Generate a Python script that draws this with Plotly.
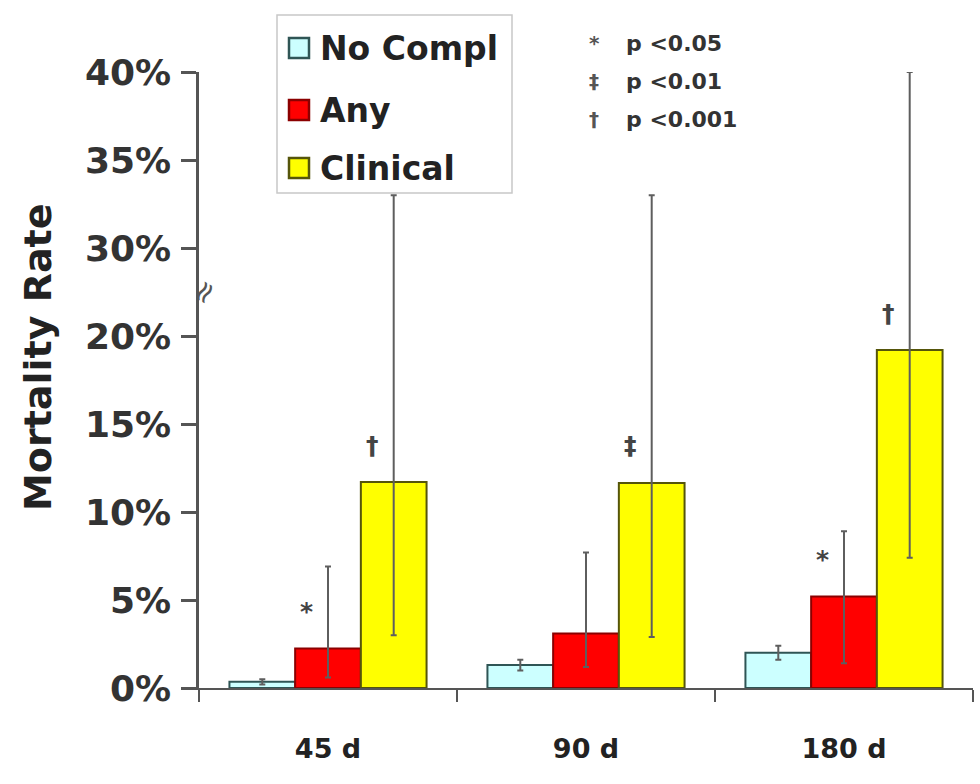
import plotly.graph_objects as go

# Follow-up windows
categories = ["45 d", "90 d", "180 d"]

# Mortality rate (%) by complication group, with confidence limits
no_compl = [0.35, 1.3, 2.0]
no_compl_lo = [0.2, 1.0, 1.6]
no_compl_hi = [0.5, 1.6, 2.4]

any_compl = [2.25, 3.1, 5.2]
any_lo = [0.6, 1.2, 1.4]
any_hi = [6.9, 7.7, 8.9]

clinical = [11.7, 11.65, 19.2]
clinical_lo = [3.0, 2.9, 7.4]
clinical_hi = [33.0, 33.0, 40.0]

# y-axis with a break between 20% and 30%
tick_pcts = [0, 5, 10, 15, 20, 30, 35, 40]
tick_labels = ["0%", "5%", "10%", "15%", "20%", "30%", "35%", "40%"]
BREAK_LOW, BREAK_GAP = 20, 5

# significance key
sig_symbols = ["*", "‡", "†"]
sig_labels = ["p <0.05", "p <0.01", "p <0.001"]

# significance markers above bars: (category, series, symbol)
sig_marks = [
    ("45 d", "Any", "*"),
    ("45 d", "Clinical", "†"),
    ("90 d", "Clinical", "‡"),
    ("180 d", "Any", "*"),
    ("180 d", "Clinical", "†"),
]


def to_axis(v):
    """Map a percentage onto the broken axis."""
    return v if v <= BREAK_LOW else v - BREAK_GAP


FONT = "DejaVu Sans"
ERR_COLOR = "#5e5e5e"
AXIS_COLOR = "#555555"

series = [
    ("No Compl", no_compl, no_compl_lo, no_compl_hi, "#CCFFFF", "#2F5555"),
    ("Any", any_compl, any_lo, any_hi, "#FF0000", "#8B0000"),
    ("Clinical", clinical, clinical_lo, clinical_hi, "#FFFF00", "#55550A"),
]

W, H = 980, 784
plot_left, plot_right = 199, 973
plot_top, plot_bottom = 72, 688
plot_w = plot_right - plot_left
plot_h = plot_bottom - plot_top


def px_x(px):
    return (px - plot_left) / plot_w


def px_y(py):
    return (plot_bottom - py) / plot_h


fig = go.Figure()
for name, vals, lo, hi, fill, edge in series:
    yv = [to_axis(v) for v in vals]
    plus = [to_axis(h) - y for h, y in zip(hi, yv)]
    minus = [v - l for v, l in zip(vals, lo)]
    fig.add_trace(go.Bar(
        name=name,
        x=categories,
        y=yv,
        marker=dict(color=fill, line=dict(color=edge, width=2)),
        error_y=dict(type="data", symmetric=False, array=plus, arrayminus=minus,
                     color=ERR_COLOR, thickness=2, width=3),
        cliponaxis=False,
        showlegend=False,
    ))

bargap = 0.236
cat_px = plot_w / len(categories)
bar_px = cat_px * (1 - bargap) / len(series)
series_index = {s[0]: k for k, s in enumerate(series)}
series_vals = {s[0]: s[1] for s in series}

annotations = []
shapes = []

# significance markers
for cat, sname, sym in sig_marks:
    k = series_index[sname]
    v = series_vals[sname][categories.index(cat)]
    annotations.append(dict(
        x=cat, y=to_axis(v), xref="x", yref="y",
        text=sym, showarrow=False,
        xshift=(k - 1) * bar_px - bar_px * 0.32,
        yshift=37, yanchor="middle",
        font=dict(family=FONT, size=25, color="#444444", weight="bold"),
    ))

# legend box with swatches
shapes.append(dict(type="rect", xref="paper", yref="paper",
                   x0=px_x(277), x1=px_x(512), y0=px_y(193), y1=px_y(15),
                   line=dict(color="#c8c8c8", width=1.5), fillcolor="white", layer="above"))
legend_rows = [48, 110, 168]
for (name, _, _, _, fill, edge), ry in zip(series, legend_rows):
    shapes.append(dict(type="rect", xref="paper", yref="paper",
                       x0=px_x(289), x1=px_x(309), y0=px_y(ry + 10), y1=px_y(ry - 10),
                       line=dict(color=edge, width=2.5), fillcolor=fill, layer="above"))
    annotations.append(dict(
        x=px_x(318), y=px_y(ry), xref="paper", yref="paper",
        text=name, showarrow=False, xanchor="left", yanchor="middle",
        font=dict(family=FONT, size=33, color="#222222", weight="bold"),
    ))

# p-value key
for j, (sym, lab) in enumerate(zip(sig_symbols, sig_labels)):
    yp = px_y(43 + j * 38)
    annotations.append(dict(
        x=px_x(594), y=yp, xref="paper", yref="paper",
        text=sym, showarrow=False, xanchor="center", yanchor="middle",
        font=dict(family=FONT, size=20, color="#555555", weight="bold"),
    ))
    annotations.append(dict(
        x=px_x(624), y=yp, xref="paper", yref="paper",
        text=lab, showarrow=False, xanchor="left", yanchor="middle",
        font=dict(family=FONT, size=22, color="#333333", weight="bold"),
    ))

# axis break mark
annotations.append(dict(
    x=0, y=BREAK_LOW + BREAK_GAP / 2, xref="paper", yref="y",
    text="≈", showarrow=False, textangle=-60, xanchor="center", yanchor="middle",
    xshift=4,
    font=dict(family=FONT, size=30, color="#555555"),
))

# y-axis title
annotations.append(dict(
    x=px_x(38), y=px_y(357), xref="paper", yref="paper",
    text="Mortality Rate", showarrow=False, textangle=-90,
    xanchor="center", yanchor="middle",
    font=dict(family=FONT, size=38, color="#222222", weight="bold"),
))

fig.update_layout(
    width=W, height=H,
    margin=dict(l=plot_left, r=W - plot_right, t=plot_top, b=H - plot_bottom),
    paper_bgcolor="white", plot_bgcolor="white",
    barmode="group", bargap=bargap, bargroupgap=0,
    showlegend=False,
    xaxis=dict(
        type="category", tickson="boundaries",
        ticks="outside", ticklen=12, tickwidth=2, tickcolor=AXIS_COLOR,
        showline=True, linecolor=AXIS_COLOR, linewidth=2,
        showgrid=False, zeroline=False,
        tickfont=dict(family=FONT, size=27, color="#222222", weight="bold"),
        ticklabelstandoff=36,
    ),
    yaxis=dict(
        range=[0, to_axis(40)],
        tickvals=[to_axis(p) for p in tick_pcts], ticktext=tick_labels,
        ticks="outside", ticklen=15, tickwidth=2.5, tickcolor=AXIS_COLOR,
        showline=True, linecolor=AXIS_COLOR, linewidth=2.5,
        showgrid=False, zeroline=False,
        tickfont=dict(family=FONT, size=36, color="#333333", weight="bold"),
        ticklabelstandoff=3,
    ),
    annotations=annotations,
    shapes=shapes,
)

fig.write_html("out.html")
